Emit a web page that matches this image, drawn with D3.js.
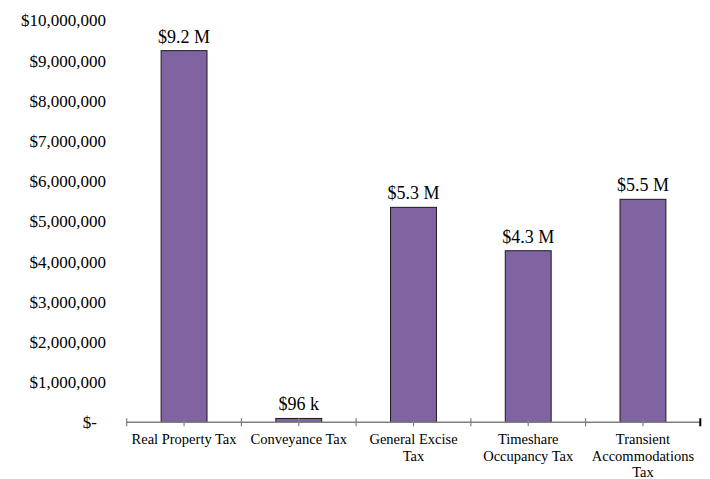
<!DOCTYPE html>
<html>
<head>
<meta charset="utf-8">
<script src="https://cdn.jsdelivr.net/npm/d3@7"></script>
<style>
  html, body { margin: 0; padding: 0; background: #fff; }
  svg { display: block; font-family: "Liberation Serif", "Times New Roman", serif; }
</style>
</head>
<body>
<svg id="chart" width="710" height="479"></svg>
<script>
const categories = ["Real Property Tax", "Conveyance Tax", "General Excise Tax", "Timeshare Occupancy Tax", "Transient Accommodations Tax"];
const values = [9250000, 96000, 5350000, 4270000, 5550000];
const valueLabels = ["$9.2 M", "$96 k", "$5.3 M", "$4.3 M", "$5.5 M"];
const yTicks = [0, 1000000, 2000000, 3000000, 4000000, 5000000, 6000000, 7000000, 8000000, 9000000, 10000000];

const svg = d3.select("#chart");
const x0 = 126.7, x1 = 700.3, yBase = 422.3, yTop = 20.5;

const x = d3.scaleBand().domain(categories).range([x0, x1]).padding(0);
const y = d3.scaleLinear().domain([0, 10000000]).range([yBase, yTop]);

const fmt = v => v === 0 ? "$-" : "$" + d3.format(",")(v);

// y labels
svg.append("g").selectAll("text").data(yTicks).join("text")
  .attr("x", d => d === 0 ? 97 : 106)
  .attr("y", d => y(d))
  .attr("dy", "0.35em")
  .attr("text-anchor", "end")
  .attr("font-size", 17)
  .attr("fill", "#000")
  .text(fmt);

// bars
const bw = x.bandwidth() * 0.4;
svg.append("g").selectAll("rect").data(categories).join("rect")
  .attr("x", (d) => x(d) + x.bandwidth() / 2 - bw / 2)
  .attr("y", (d, i) => y(values[i]))
  .attr("width", bw)
  .attr("height", (d, i) => yBase - y(values[i]))
  .attr("fill", "#8064A2")
  .attr("stroke", "#1a1a1a")
  .attr("stroke-width", 1);

// value labels
svg.append("g").selectAll("text").data(categories).join("text")
  .attr("x", d => x(d) + x.bandwidth() / 2)
  .attr("y", (d, i) => y(values[i]) - 8)
  .attr("text-anchor", "middle")
  .attr("font-size", 18)
  .attr("fill", "#000")
  .text((d, i) => valueLabels[i]);

// x axis line
const ax = svg.append("g");
ax.append("line")
  .attr("x1", x0).attr("x2", x1).attr("y1", yBase).attr("y2", yBase)
  .attr("stroke", "#808080").attr("stroke-width", 1.5);
const tickPos = [];
categories.forEach(c => { tickPos.push(x(c)); tickPos.push(x(c) + x.bandwidth() / 2); });
tickPos.push(x1);
ax.selectAll("line.tick").data(tickPos).join("line")
  .attr("class", "tick")
  .attr("x1", d => d).attr("x2", d => d)
  .attr("y1", yBase - 4).attr("y2", yBase + 4)
  .attr("stroke", (d, i) => i === tickPos.length - 1 ? "#000" : "#808080")
  .attr("stroke-width", (d, i) => i === tickPos.length - 1 ? 2 : 1.2);

// category labels with wrapping
const catG = svg.append("g");
const baseY = 444, lineH = 16.5;
categories.forEach(c => {
  const cx = x(c) + x.bandwidth() / 2;
  const t = catG.append("text")
    .attr("x", cx).attr("y", baseY)
    .attr("text-anchor", "middle")
    .attr("font-size", 14.5)
    .attr("fill", "#000");
  const words = c.split(" ");
  let line = [];
  let lineNo = 0;
  let tspan = t.append("tspan").attr("x", cx).attr("y", baseY);
  words.forEach(w => {
    line.push(w);
    tspan.text(line.join(" "));
    if (tspan.node().getComputedTextLength() > 110 && line.length > 1) {
      line.pop();
      tspan.text(line.join(" "));
      line = [w];
      lineNo++;
      tspan = t.append("tspan").attr("x", cx).attr("y", baseY + lineNo * lineH).text(w);
    }
  });
});
</script>
</body>
</html>
